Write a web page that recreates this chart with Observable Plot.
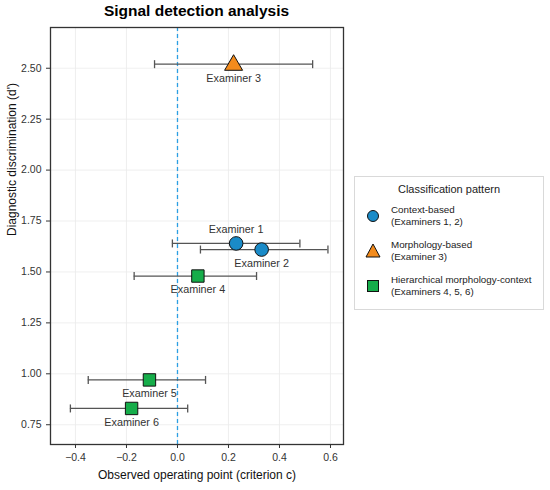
<!DOCTYPE html>
<html>
<head>
<meta charset="utf-8">
<script src="https://cdn.jsdelivr.net/npm/d3@7"></script>
<script src="https://cdn.jsdelivr.net/npm/@observablehq/plot@0.6"></script>
<style>
  body { margin: 0; background: #fff; font-family: "Liberation Sans", Arial, sans-serif; }
  #wrap { position: relative; width: 550px; height: 490px; }
  #title { position: absolute; top: 2px; left: 50px; width: 293px; text-align: center; font-weight: bold; font-size: 15.5px; color: #000; }
  #legend { position: absolute; left: 354px; top: 176px; width: 190px; height: 134px; border: 1px solid #d9d9d9; box-sizing: border-box; font-size: 10px; color: #222; }
  #legend .lt { text-align: center; font-size: 11px; margin-top: 6px; margin-bottom: 3px; }
  #legend .row { display: flex; align-items: center; height: 35px; }
  #legend .sym { width: 36px; display: flex; justify-content: center; }
  #legend .txt { line-height: 12px; white-space: nowrap; font-size: 9.8px; }
  #chart { position: absolute; left: 0; top: 0; }
</style>
</head>
<body>
<div id="wrap">
  <div id="chart"></div>
  <div id="title">Signal detection analysis</div>
  <div id="legend"></div>
</div>
<script>
const examiners = ["Examiner 1", "Examiner 2", "Examiner 3", "Examiner 4", "Examiner 5", "Examiner 6"];
const criterion = [0.23, 0.33, 0.22, 0.08, -0.11, -0.18];
const dprime = [1.64, 1.61, 2.52, 1.48, 0.97, 0.83];
const ciLow = [-0.02, 0.09, -0.09, -0.17, -0.35, -0.42];
const ciHigh = [0.48, 0.59, 0.53, 0.31, 0.11, 0.04];
const patterns = ["Context-based", "Context-based", "Morphology-based", "Hierarchical", "Hierarchical", "Hierarchical"];
const labelPos = ["above", "below", "below", "below", "below", "below"];
const xTicks = [-0.4, -0.2, 0.0, 0.2, 0.4, 0.6];
const yTicks = [0.75, 1.00, 1.25, 1.50, 1.75, 2.00, 2.25, 2.50];

const legendItems = [
  {key: "Context-based", line1: "Context-based", line2: "(Examiners 1, 2)", color: "#1a8bc8", shape: "circle"},
  {key: "Morphology-based", line1: "Morphology-based", line2: "(Examiner 3)", color: "#f38b1c", shape: "triangle"},
  {key: "Hierarchical", line1: "Hierarchical morphology-context", line2: "(Examiners 4, 5, 6)", color: "#16ad4a", shape: "square"}
];

const data = examiners.map((e, i) => ({
  name: e, x: criterion[i], y: dprime[i], lo: ciLow[i], hi: ciHigh[i],
  pattern: patterns[i], pos: labelPos[i]
}));
const colorOf = Object.fromEntries(legendItems.map(d => [d.key, d.color]));

// Plot passes size = r² · π to custom symbols
const capSymbol = {
  draw(ctx, size) { const h = Math.sqrt(size / Math.PI); ctx.moveTo(0, -h); ctx.lineTo(0, h); }
};
const triSymbol = {
  draw(ctx, size) {
    const r = Math.sqrt(size / Math.PI);
    ctx.moveTo(0, -r * 1.05);
    ctx.lineTo(r * 1.0, r * 0.68);
    ctx.lineTo(-r * 1.0, r * 0.68);
    ctx.closePath();
  }
};
const sqSymbol = {
  draw(ctx, size) { const r = Math.sqrt(size / Math.PI); ctx.rect(-r, -r, 2 * r, 2 * r); }
};

const caps = data.flatMap(d => [{x: d.lo, y: d.y}, {x: d.hi, y: d.y}]);
const fmtX = d => d.toFixed(1).replace("-", "\u2212");

const chart = Plot.plot({
  width: 550,
  height: 490,
  marginTop: 27,
  marginBottom: 46,
  marginLeft: 50,
  marginRight: 207,
  style: {fontFamily: "Liberation Sans, Arial, sans-serif", fontSize: "10.5px", color: "#333", background: "#fff"},
  x: {domain: [-0.498, 0.651], label: null},
  y: {domain: [0.653, 2.70], label: null},
  marks: [
    Plot.gridX(xTicks, {stroke: "#ebebeb", strokeOpacity: 1, strokeWidth: 0.8}),
    Plot.gridY(yTicks, {stroke: "#ebebeb", strokeOpacity: 1, strokeWidth: 0.8}),
    Plot.ruleX([0], {stroke: "#2b9fe3", strokeOpacity: 1, strokeDasharray: "4,3", strokeWidth: 1.3}),
    Plot.ruleY(data, {x1: "lo", x2: "hi", y: "y", stroke: "#555", strokeWidth: 1.3}),
    Plot.dot(caps, {x: "x", y: "y", symbol: capSymbol, r: 4, stroke: "#555", strokeWidth: 1.3, fill: "none"}),
    Plot.dot(data.filter(d => d.pattern === "Context-based"), {x: "x", y: "y", symbol: "circle", r: 6.8, fill: d => colorOf[d.pattern], stroke: "#111", strokeWidth: 1}),
    Plot.dot(data.filter(d => d.pattern === "Morphology-based"), {x: "x", y: "y", symbol: triSymbol, r: 9, fill: d => colorOf[d.pattern], stroke: "#111", strokeWidth: 1}),
    Plot.dot(data.filter(d => d.pattern === "Hierarchical"), {x: "x", y: "y", symbol: sqSymbol, r: 6.2, fill: d => colorOf[d.pattern], stroke: "#111", strokeWidth: 1}),
    Plot.text(data.filter(d => d.pos === "above"), {x: "x", y: "y", text: "name", dy: -14, fontSize: 10.8, fill: "#333"}),
    Plot.text(data.filter(d => d.pos === "below"), {x: "x", y: "y", text: "name", dy: 14, fontSize: 10.8, fill: "#333"}),
    Plot.frame({stroke: "#333", strokeWidth: 1.3}),
    Plot.axisX({ticks: xTicks, tickFormat: fmtX, label: null, tickSize: 4, stroke: "#333", fill: "#333", fontSize: 10.5}),
    Plot.axisY({ticks: yTicks, tickFormat: d => d.toFixed(2), label: null, tickSize: 4, stroke: "#333", fill: "#333", fontSize: 10.5}),
    Plot.text(["Observed operating point (criterion c)"], {frameAnchor: "bottom", dy: 34, fontSize: 12, fill: "#111"}),
    Plot.text(["Diagnostic discrimination (d')"], {frameAnchor: "left", dx: -38, rotate: -90, fontSize: 12, fill: "#111"})
  ]
});
document.getElementById("chart").appendChild(chart);

// Legend
const leg = document.getElementById("legend");
const lt = document.createElement("div");
lt.className = "lt";
lt.textContent = "Classification pattern";
leg.appendChild(lt);
legendItems.forEach(item => {
  const row = document.createElement("div");
  row.className = "row";
  const sym = document.createElement("div");
  sym.className = "sym";
  const ns = "http://www.w3.org/2000/svg";
  const s = document.createElementNS(ns, "svg");
  s.setAttribute("width", "18"); s.setAttribute("height", "18");
  let el;
  if (item.shape === "circle") {
    el = document.createElementNS(ns, "circle");
    el.setAttribute("cx", "9"); el.setAttribute("cy", "9"); el.setAttribute("r", "5.5");
  } else if (item.shape === "triangle") {
    el = document.createElementNS(ns, "path");
    el.setAttribute("d", "M9,2 L16,15 L2,15 Z");
  } else {
    el = document.createElementNS(ns, "rect");
    el.setAttribute("x", "3.5"); el.setAttribute("y", "3.5"); el.setAttribute("width", "11"); el.setAttribute("height", "11");
  }
  el.setAttribute("fill", item.color); el.setAttribute("stroke", "#111"); el.setAttribute("stroke-width", "1");
  s.appendChild(el);
  sym.appendChild(s);
  const txt = document.createElement("div");
  txt.className = "txt";
  txt.innerHTML = item.line1 + "<br>" + item.line2;
  row.appendChild(sym); row.appendChild(txt);
  leg.appendChild(row);
});
</script>
</body>
</html>
